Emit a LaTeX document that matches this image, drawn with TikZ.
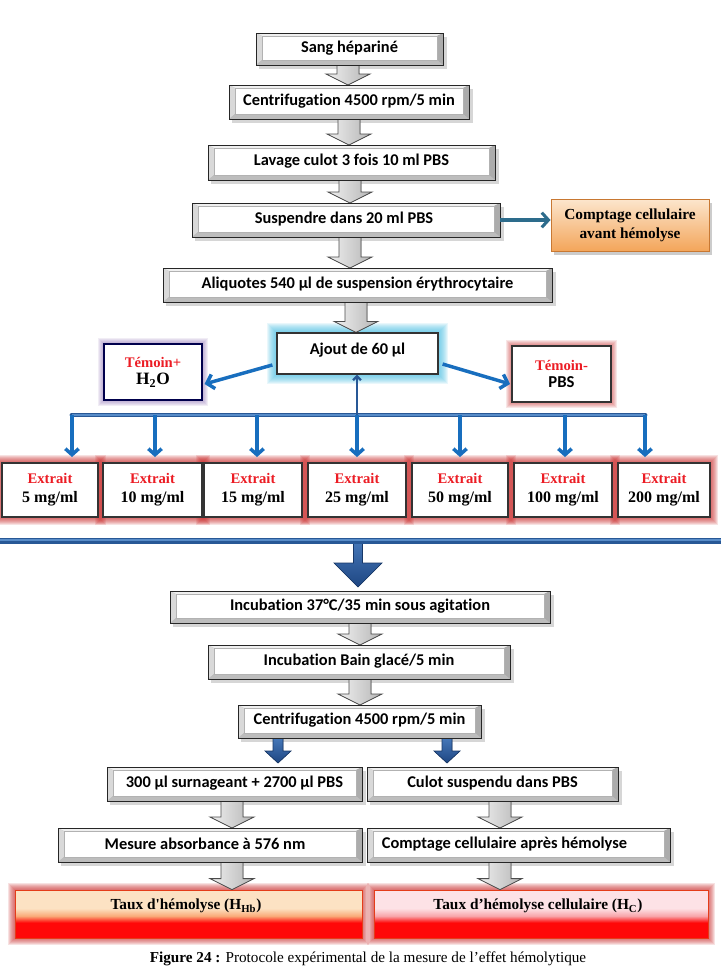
\documentclass[tikz,border=0pt]{standalone}
\usepackage{fontspec}
\setmainfont{Liberation Serif}
\newfontfamily\carlito[Ligatures={NoCommon,NoRare,NoContextual}]{Carlito}
\newcommand\nolig{\kern0pt }
\usetikzlibrary{arrows.meta,calc}
\pgfdeclarelayer{bg}
\pgfdeclarelayer{mid}
\pgfsetlayers{bg,mid,main}
\definecolor{exred}{RGB}{236,28,36}
\definecolor{linkblue}{RGB}{24,110,190}
\definecolor{busdark}{RGB}{40,88,150}
\definecolor{buslight}{RGB}{88,140,200}
\definecolor{tealarrow}{RGB}{45,108,140}
\definecolor{peachtop}{RGB}{252,226,195}
\definecolor{peachmid}{RGB}{250,170,120}
\definecolor{pinktop}{RGB}{253,226,230}
\definecolor{pinkmid}{RGB}{248,165,170}
\definecolor{hotred}{RGB}{255,8,8}
\definecolor{orangetop}{RGB}{252,230,205}
\definecolor{orangebot}{RGB}{243,165,90}
\definecolor{orangeedge}{RGB}{200,120,50}
\definecolor{glowcyan}{RGB}{80,195,230}
\definecolor{glowpurple}{RGB}{140,110,180}
\definecolor{glowred}{RGB}{205,50,50}
\definecolor{blockblue}{RGB}{70,120,185}
\definecolor{blockdark}{RGB}{30,70,130}
\pgfdeclareverticalshading{shTL}{100bp}{color(0bp)=(hotred); color(25bp)=(hotred); color(41bp)=(hotred); color(48bp)=(peachmid); color(56bp)=(peachtop); color(100bp)=(peachtop)}
\pgfdeclareverticalshading{shTR}{100bp}{color(0bp)=(hotred); color(25bp)=(hotred); color(41bp)=(hotred); color(48bp)=(pinkmid); color(56bp)=(pinktop); color(100bp)=(pinktop)}
\tikzset{
  caltext/.style={font=\carlito\bfseries\fontsize{12.3}{14}\selectfont, inner sep=0pt},
  whitebox/.style={draw=black!80, line width=0.9pt, fill=white, inner sep=0pt, align=center},
  extext/.style={font=\bfseries\fontsize{12}{14}\selectfont},
  harrowstyle/.style={left color=gray!12, right color=gray!58, draw=black!70, line width=0.6pt},
  barrowstyle/.style={top color=blockblue, bottom color=blockdark, draw=blockdark!80!black, line width=0.5pt},
  droparrow/.style={draw=linkblue, line width=2.6pt, -{Straight Barb[length=4.5pt,width=10pt]}, shorten >=4pt},
  sidearrow/.style={draw=linkblue, line width=2.6pt, -{Straight Barb[length=5pt,width=11pt]}},
  uparrow/.style={draw=busdark, line width=1.7pt, -{Straight Barb[length=3pt,width=6pt]}},
  tealarr/.style={draw=tealarrow, line width=2.3pt, -{Straight Barb[length=5pt,width=11pt]}},
}
\newcommand\bevelbox[7]{%
  \node[inner sep=0pt, outer sep=0pt, minimum width={(#4-#2)*0.75pt}, minimum height={(#5-#3)*0.75pt}] (#1) at ({(#2+#4)/2},{(#3+#5)/2}) {};
  \begin{pgfonlayer}{bg}
    \fill[black,opacity=0.16] (#2+3,#3+4) rectangle (#4+4,#5+4);
  \end{pgfonlayer}
  \begin{pgfonlayer}{mid}
    \fill[gray!55] (#2,#3) rectangle (#4,#5);
    \fill[gray!12] (#2,#3) -- (#4,#3) -- (#4-6,#3+3) -- (#2+6,#3+3) -- cycle;
    \fill[gray!30] (#2,#3) -- (#2+6,#3+3) -- (#2+6,#5-5) -- (#2,#5) -- cycle;
    \fill[gray!65] (#4,#3) -- (#4-6,#3+3) -- (#4-6,#5-5) -- (#4,#5) -- cycle;
    \fill[gray!52] (#2,#5) -- (#2+6,#5-5) -- (#4-6,#5-5) -- (#4,#5) -- cycle;
    \fill[white] (#2+6,#3+3) rectangle (#4-6,#5-5);
    \draw[gray!60, line width=0.3pt] (#2+6,#3+3) rectangle (#4-6,#5-5);
    \draw[black!85, line width=0.7pt] (#2,#3) rectangle (#4,#5);
  \end{pgfonlayer}
  \node[caltext] (#1-t) at ({(#2+#4)/2+#7},{(#3+#5)/2-1}) {#6};
}
\newcommand\harrow[3]{%
  \coordinate (hx) at (#3,0);
  \coordinate (ht) at (#1.south -| hx);
  \coordinate (hb) at (#2.north -| hx);
  \begin{pgfonlayer}{bg}
    \filldraw[harrowstyle] ([shift={(-8.25pt,3pt)}]ht) -- ([shift={(8.25pt,3pt)}]ht) -- ([shift={(8.25pt,8.25pt)}]hb) -- ([shift={(16.5pt,8.25pt)}]hb) -- (hb) -- ([shift={(-16.5pt,8.25pt)}]hb) -- ([shift={(-8.25pt,8.25pt)}]hb) -- cycle;
  \end{pgfonlayer}
}
\newcommand\blockarrow[5]{%
  \begin{pgfonlayer}{bg}
    \filldraw[barrowstyle] ([shift={(-#3,0pt)}]#1) -- ([shift={(#3,0pt)}]#1) -- ([shift={(#3,#5)}]#2) -- ([shift={(#4,#5)}]#2) -- (#2) -- ([shift={(-#4,#5)}]#2) -- ([shift={(-#3,#5)}]#2) -- cycle;
  \end{pgfonlayer}
}
\newcommand\glow[4]{%
  \begin{pgfonlayer}{bg}
    \foreach \g in {1,...,#3}{\fill[#2,opacity=#4] ([shift={({-\g*0.75pt},{\g*0.75pt})}]#1.north west) rectangle ([shift={({\g*0.75pt},{-\g*0.75pt})}]#1.south east);}
  \end{pgfonlayer}
}
\begin{document}
\begin{tikzpicture}[x=0.75pt,y=-0.75pt]
\useasboundingbox (0,0) rectangle (721,967);
\begin{pgfonlayer}{bg}
  \fill[white] (0,0) rectangle (721,967);
\end{pgfonlayer}

% top column
\bevelbox{sang}{256}{33}{443}{65}{Sang hépariné}{0}
\bevelbox{centA}{229}{85}{469}{119}{Centrifugat\nolig ion 4500 rpm/5 min}{0}
\bevelbox{lavage}{208}{145}{495}{180}{Lavage culot 3 f\nolig ois 10 ml PBS}{0}
\bevelbox{susp}{192}{203}{500}{237}{Suspendre dans 20 ml PBS}{-2}
\bevelbox{aliq}{163}{268}{552}{302}{Aliquotes 540 µl de suspension érythrocytaire}{0}

% comptage avant
\begin{pgfonlayer}{bg}
  \fill[black,opacity=0.2] (554,203) rectangle (712,255);
\end{pgfonlayer}
\node[draw=orangeedge, line width=0.7pt, top color=orangetop, bottom color=orangebot,
  minimum width=118.5pt, minimum height=39pt, align=center, inner sep=0pt,
  font=\bfseries\fontsize{11.5}{14}\selectfont] (cavant) at (630,225) {Comptage cellulaire\\avant hémolyse};
\draw[tealarr] (susp.east) -- (susp.east -| cavant.west);

% ajout and temoins
\node[whitebox, minimum width=120.75pt, minimum height=30.75pt] (ajout) at (357.5,353.5) {};
\node[caltext] (ajout-t) at (357.5,350) {Ajout de 60 µl};
\glow{ajout}{glowcyan}{9}{0.12}
\node[whitebox, draw=black!70!blue, minimum width=73.5pt, minimum height=42pt] (tplus) at (153,372)
  {{\color{exred}\bfseries\fontsize{11}{13}\selectfont Témoin+}\\[1pt]{\bfseries\fontsize{13}{15}\selectfont H\textsubscript{2}O}};
\glow{tplus}{glowpurple}{5}{0.12}
\node[whitebox, minimum width=74.25pt, minimum height=42pt] (tminus) at (561.5,374)
  {{\color{exred}\bfseries\fontsize{11}{13}\selectfont Témoin-}\\[1pt]{\carlito\bfseries\fontsize{12.5}{15}\selectfont PBS}};
\glow{tminus}{glowred}{5}{0.12}
\draw[sidearrow] ([shift={(-3pt,-8.6pt)}]ajout.west) -- ([shift={(1.5pt,-9pt)}]tplus.east);
\draw[sidearrow] ([shift={(3pt,-7.9pt)}]ajout.east) -- ([shift={(-1pt,-7.5pt)}]tminus.west);

% extraits
\node[whitebox, extext, minimum width=72pt, minimum height=40.5pt] (e1) at (50,490) {{\color{exred}\fontsize{11}{13}\selectfont Extrait}\\5 mg/ml};
\node[whitebox, extext, minimum width=74.25pt, minimum height=40.5pt] (e2) at (152.5,490) {{\color{exred}\fontsize{11}{13}\selectfont Extrait}\\10 mg/ml};
\node[whitebox, extext, minimum width=73.5pt, minimum height=40.5pt] (e3) at (253,490) {{\color{exred}\fontsize{11}{13}\selectfont Extrait}\\15 mg/ml};
\node[whitebox, extext, minimum width=73.5pt, minimum height=40.5pt] (e4) at (357,490) {{\color{exred}\fontsize{11}{13}\selectfont Extrait}\\25 mg/ml};
\node[whitebox, extext, minimum width=72pt, minimum height=40.5pt] (e5) at (460,490) {{\color{exred}\fontsize{11}{13}\selectfont Extrait}\\50 mg/ml};
\node[whitebox, extext, minimum width=73.5pt, minimum height=40.5pt] (e6) at (563,490) {{\color{exred}\fontsize{11}{13}\selectfont Extrait}\\100 mg/ml};
\node[whitebox, extext, minimum width=69pt, minimum height=40.5pt] (e7) at (664,490) {{\color{exred}\fontsize{11}{13}\selectfont Extrait}\\200 mg/ml};
\foreach \i in {1,...,7}{\glow{e\i}{glowred}{7}{0.14}}

% bus
\coordinate (d1) at (72,415);
\coordinate (d2) at (155,415);
\coordinate (d3) at (257,415);
\coordinate (d4) at (357,415);
\coordinate (d5) at (460,415);
\coordinate (d6) at (565,415);
\coordinate (d7) at (645,415);
\draw[busdark, line width=3.6pt, line cap=round] (d1) -- (d7);
\draw[buslight, line width=1.3pt] (d1) -- (d7);
\foreach \i in {1,...,7}{\draw[droparrow] (d\i) -- (d\i |- e\i.north);}
\draw[uparrow] (d4) -- (d4 |- ajout.south);

% big line and big arrow
\bevelbox{incA}{170}{591}{550}{623}{Incubat\nolig ion 37°C/35 min sous agitat\nolig ion}{0}
\coordinate (bigL) at (0,541);
\coordinate (bigR) at (721,541);
\coordinate (bigC) at (358,541);
\coordinate (bigT) at ([yshift=3pt]incA.north -| bigC);
\draw[busdark, line width=4.6pt] (bigL) -- (bigR);
\draw[buslight, line width=1.4pt] ([yshift=0.5pt]bigL) -- ([yshift=0.5pt]bigR);
\blockarrow{bigC}{bigT}{3.4pt}{18pt}{18pt}

% lower column
\bevelbox{incB}{208}{645}{510}{679}{Incubat\nolig ion Bain glacé/5 min}{0}
\bevelbox{centB}{238}{705}{481}{738}{Centrifugat\nolig ion 4500 rpm/5 min}{0}
\bevelbox{surn}{107}{767}{362}{801}{300 µl surnageant + 2700 µl PBS}{0}
\bevelbox{culot}{367}{767}{618}{801}{Culot suspendu dans PBS}{0}
\bevelbox{mesure}{58}{828}{362}{862}{Mesure absorbance à 576 nm}{-5}
\bevelbox{cpt}{367}{828}{670}{862}{Comptage cellulaire après hémolyse}{-14}

\coordinate (bx1) at (278,0);
\coordinate (bx2) at (447,0);
\coordinate (b1t) at (centB.south -| bx1);
\coordinate (b1b) at ([yshift=3pt]surn.north -| bx1);
\coordinate (b2t) at (centB.south -| bx2);
\coordinate (b2b) at ([yshift=3pt]culot.north -| bx2);
\blockarrow{b1t}{b1b}{3.75pt}{9.75pt}{9pt}
\blockarrow{b2t}{b2b}{3.75pt}{9.75pt}{9pt}

% taux
\node[inner sep=0pt, shading=shTL, draw=orangeedge!50!red, line width=0.6pt, minimum width=260.25pt, minimum height=36pt] (tauxL) at (188.5,914) {};
\node[font=\bfseries\fontsize{11.5}{14}\selectfont, inner sep=0pt] (tauxL-t) at (186,906) {Taux d\textquotesingle hémolyse (H\textsubscript{Hb})};
\node[inner sep=0pt, shading=shTR, draw=orangeedge!50!red, line width=0.6pt, minimum width=250.5pt, minimum height=36pt] (tauxR) at (541,914) {};
\node[font=\bfseries\fontsize{11.5}{14}\selectfont, inner sep=0pt] (tauxR-t) at (538,906) {Taux d’hémolyse cellulaire (H\textsubscript{C})};
\glow{tauxL}{glowred}{7}{0.14}
\glow{tauxR}{glowred}{7}{0.14}

% hollow arrows
\harrow{sang}{centA}{348}
\harrow{centA}{lavage}{349}
\harrow{lavage}{susp}{350}
\harrow{susp}{aliq}{350}
\harrow{aliq}{ajout}{356}
\harrow{incA}{incB}{360}
\harrow{incB}{centB}{360}
\harrow{surn}{mesure}{232}
\harrow{culot}{cpt}{500}
\harrow{mesure}{tauxL}{232}
\harrow{cpt}{tauxR}{500}

% caption
\node[anchor=base, inner sep=0pt, font=\fontsize{11.4}{13}\selectfont] (cap) at (368,962.5) {\textbf{Figure 24 :} Protocole expérimental de la mesure de l'effet hémolytique};
\end{tikzpicture}
\end{document}
